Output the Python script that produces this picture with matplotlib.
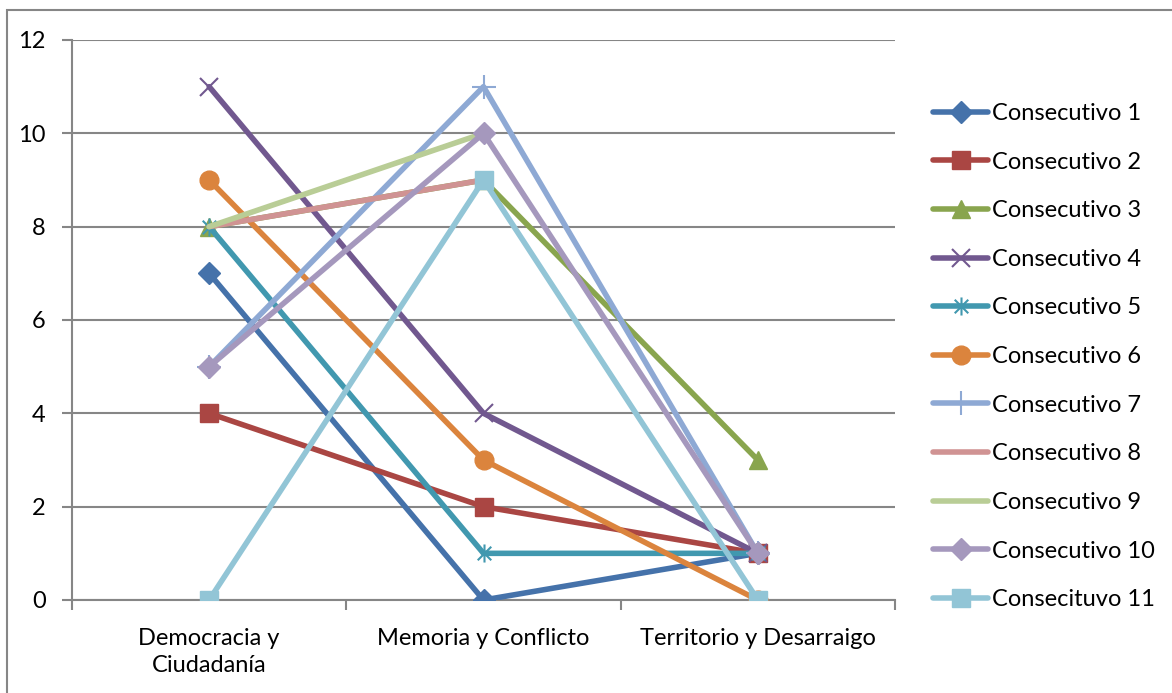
import matplotlib
matplotlib.use("Agg")
import matplotlib.pyplot as plt
import matplotlib.path as mpath
import numpy as np
from matplotlib.patches import Rectangle

plt.rcParams['font.family'] = ['Lato', 'DejaVu Sans']

categories = ["Democracia y\nCiudadanía", "Memoria y Conflicto", "Territorio y Desarraigo"]
series_names = ["Consecutivo 1", "Consecutivo 2", "Consecutivo 3", "Consecutivo 4",
                "Consecutivo 5", "Consecutivo 6", "Consecutivo 7", "Consecutivo 8",
                "Consecutivo 9", "Consecutivo 10", "Consecituvo 11"]
s1 = [7, 0, 1]
s2 = [4, 2, 1]
s3 = [8, 9, 3]
s4 = [11, 4, 1]
s5 = [8, 1, 1]
s6 = [9, 3, 0]
s7 = [5, 11, 1]
s8 = [8, 9, np.nan]
s9 = [8, 10, np.nan]
s10 = [5, 10, 1]
s11 = [0, 9, 0]
values = [s1, s2, s3, s4, s5, s6, s7, s8, s9, s10, s11]
yticks = [0, 2, 4, 6, 8, 10, 12]

colors = ['#4572AA', '#AA4643', '#89A54E', '#71588F', '#4198AF', '#DB843D',
          '#8EA9D4', '#D09393', '#B9CD96', '#A598BD', '#92C5D6']

asterisk = mpath.Path(
    [(0, -1), (0, 1), (-0.75, -0.75), (0.75, 0.75), (-0.75, 0.75), (0.75, -0.75)],
    [mpath.Path.MOVETO, mpath.Path.LINETO, mpath.Path.MOVETO, mpath.Path.LINETO,
     mpath.Path.MOVETO, mpath.Path.LINETO])

markers = ['D', 's', '^', 'x', asterisk, 'o', '+', None, None, 'D', 's']
msizes = [11.5, 13, 13, 13, 13, 13.5, 17, 0, 0, 11.5, 13]

FS = 17
W, H = 1172, 693
fig = plt.figure(figsize=(W / 100, H / 100), dpi=100)
ax = fig.add_axes([72 / W, 1 - 600 / H, (895 - 72) / W, (600 - 40) / H])

x = np.arange(len(categories))
for i, (vals, name) in enumerate(zip(values, series_names)):
    m = markers[i]
    kw = dict(color=colors[i], lw=4.0, label=name, solid_capstyle='round', zorder=3 + i)
    if m is not None:
        kw.update(marker=m, markersize=msizes[i], markerfacecolor=colors[i],
                  markeredgecolor=colors[i],
                  markeredgewidth=1.5 if (m in ('x', '+') or m is asterisk) else 1)
    ax.plot(x, vals, **kw)

ax.set_xlim(-0.5, 2.5)
ax.set_ylim(0, 12)
ax.set_yticks(yticks)
ax.set_yticklabels([str(v) for v in yticks])
ax.yaxis.grid(True, color='#868686', lw=1.5)
ax.set_axisbelow(True)
ax.set_xticks(x)
ax.set_xticklabels(categories, linespacing=1.35)
ax.set_xticks([-0.5, 0.5, 1.5, 2.5], minor=True)
ax.tick_params(axis='x', which='major', length=0, pad=20, labelsize=FS)
ax.tick_params(axis='x', which='minor', length=7, width=1.5, color='#868686')
ax.tick_params(axis='y', length=7, width=1.5, color='#868686', pad=12, labelsize=FS)
for s in ['top', 'right']:
    ax.spines[s].set_visible(False)
for s in ['left', 'bottom']:
    ax.spines[s].set_color('#868686')
    ax.spines[s].set_linewidth(1.5)
    ax.spines[s].set_zorder(2)

leg = ax.legend(loc='upper left', bbox_to_anchor=(933 / W, 1 - 103 / H),
                bbox_transform=fig.transFigure, frameon=False, fontsize=FS,
                handlelength=2.35, handletextpad=0.15, labelspacing=1.17,
                borderaxespad=0, borderpad=0)

fig.patches.append(Rectangle((7 / W, -0.05), 1.2, 1 - 10 / H + 0.05, transform=fig.transFigure,
                             fill=False, edgecolor='#868686', lw=1.5, zorder=0))

fig.savefig('out.png', dpi=100)
